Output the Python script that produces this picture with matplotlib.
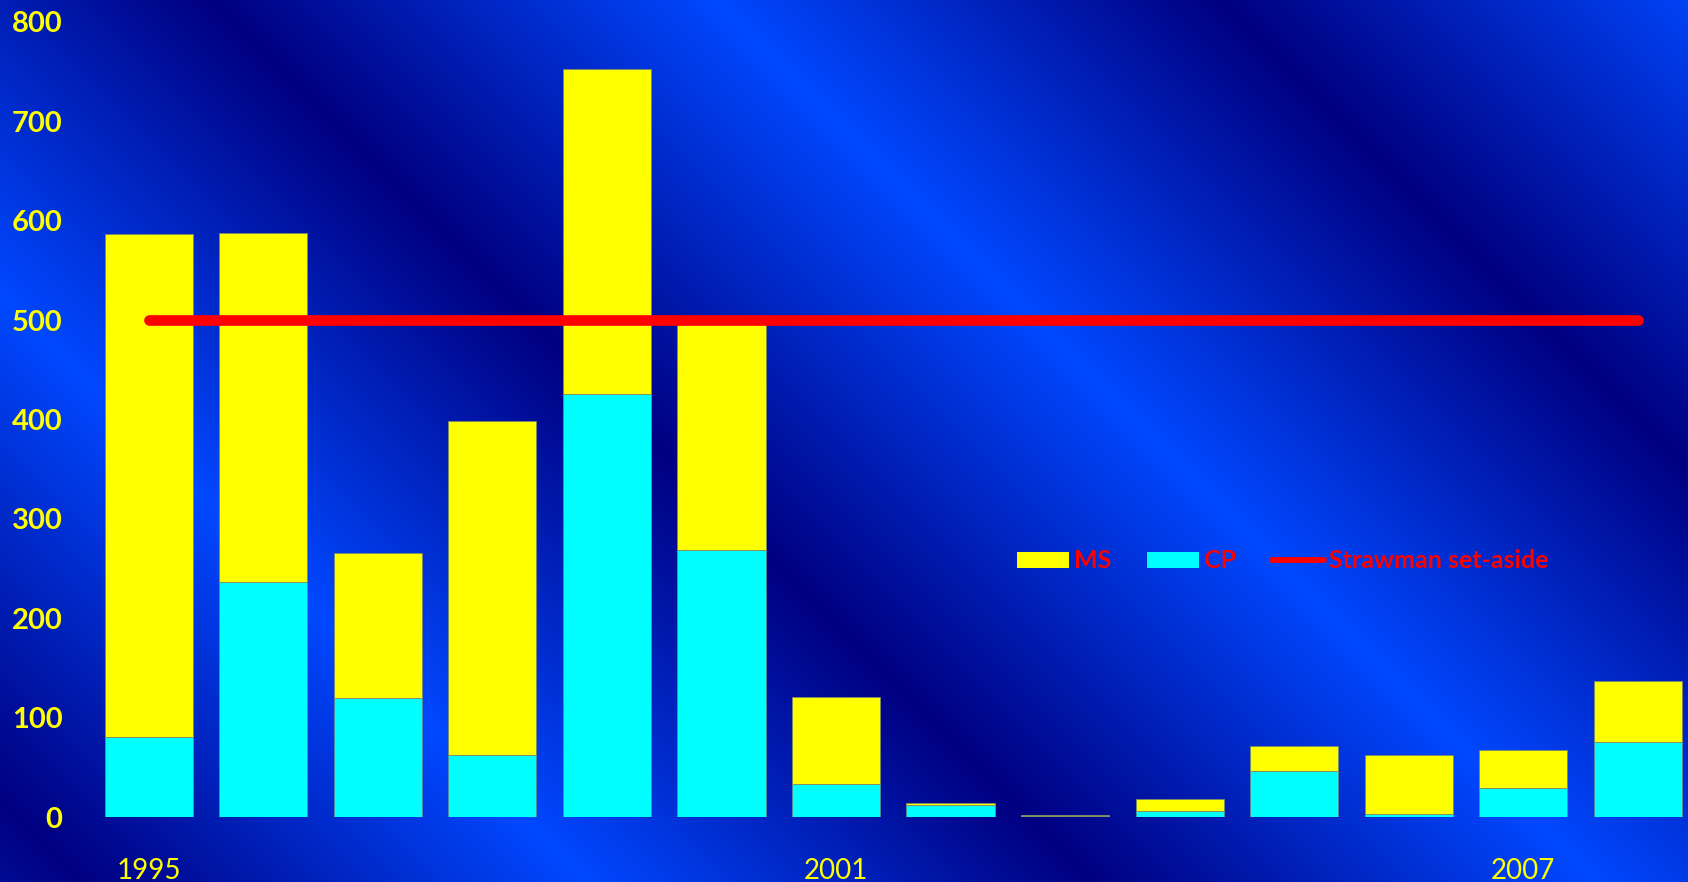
import numpy as np
import matplotlib.pyplot as plt
from matplotlib.patches import Patch
from matplotlib.lines import Line2D

years = list(range(1995, 2009))
cp = [81, 237, 120, 63, 426, 269, 33, 12.5, 1, 6, 47, 3, 29, 76]
ms = [505.5, 350.5, 146, 335, 326, 228, 88, 1.5, 1, 12, 25, 60, 39, 61]
strawman = [500] * len(years)
shown_years = [1995, 2001, 2007]
y_ticks = [0, 100, 200, 300, 400, 500, 600, 700, 800]

W, H = 1688, 882


def background(w, h):
    """
        diagonal stripes, navy -> bright blue, linear ramps
    """
    xx, yy = np.meshgrid(np.arange(w), np.arange(h))
    period = 1010.0
    u = ((xx - yy) - 210) % period
    t = 1 - np.abs(u / (period / 2) - 1)  # 0 = dark, 1 = bright
    dark = np.array([0, 0, 128]) / 255
    bright = np.array([0, 72, 255]) / 255
    return dark + t[..., None] * (bright - dark)


fig = plt.figure(figsize=(W / 100, H / 100), dpi=100)

bg = fig.add_axes([0, 0, 1, 1])
bg.imshow(background(W, H), aspect='auto', interpolation='bilinear')
bg.axis('off')

left = 91.5 / W
bottom = (H - 817.3) / H
top = (H - 21.7) / H
ax = fig.add_axes([left, bottom, 1 - left, top - bottom])
ax.set_facecolor('none')

x = np.arange(len(years))
ax.bar(x, cp, width=0.77, color='#00FFFF', edgecolor='#5a8a9a', linewidth=0.6, zorder=2)
ax.bar(x, ms, width=0.77, bottom=cp, color='#FFFF00', edgecolor='#7a8a6a', linewidth=0.6, zorder=2)
ax.plot(x, strawman, color='#FF0000', lw=7.7, solid_capstyle='round', zorder=3)

ax.set_xlim(-0.5, (W - 148.8) / 114.54)
ax.set_ylim(0, 800)

for s in ax.spines.values():
    s.set_visible(False)

ax.set_yticks(y_ticks)
ax.set_yticklabels([str(v) for v in y_ticks], color='#FFFF00', fontsize=21,
                   fontweight='bold', family='Lato')
ax.tick_params(axis='y', length=0, pad=21)

ax.set_xticks([years.index(y) for y in shown_years])
ax.set_xticklabels([str(y) for y in shown_years], color='#FFFF00', fontsize=20,
                   family='Lato')
ax.tick_params(axis='x', length=0, pad=29.5)

handles = [Patch(facecolor='#FFFF00', edgecolor='none'),
           Patch(facecolor='#00FFFF', edgecolor='none'),
           Line2D([], [], color='#FF0000', lw=4.2, solid_capstyle='round')]
leg = fig.legend(handles, ['MS', 'CP', 'Strawman set-aside'], loc='center',
                 bbox_to_anchor=(1282.5 / W, 1 - 561 / H), ncol=3, frameon=False,
                 prop={'family': 'Lato', 'weight': 'bold', 'size': 18},
                 handlelength=2.08, handleheight=0.6, handletextpad=0.2,
                 columnspacing=1.44, labelcolor='#FF0000')

fig.savefig('out.png', dpi=100)
